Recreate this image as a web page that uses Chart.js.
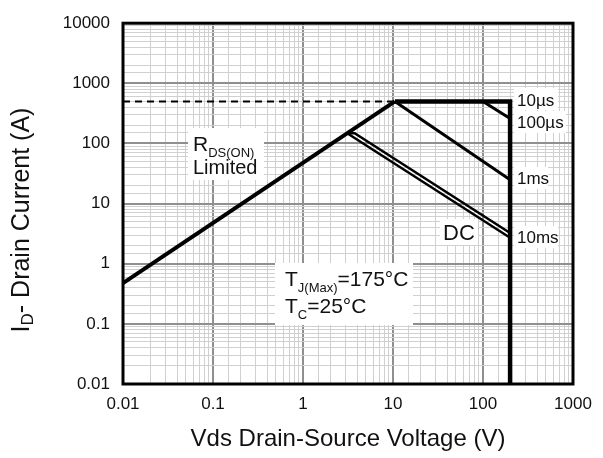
<!DOCTYPE html>
<html>
<head>
<meta charset="utf-8">
<script src="https://cdn.jsdelivr.net/npm/chart.js@4.4.0/dist/chart.umd.min.js"></script>
<style>
  html, body { margin: 0; padding: 0; background: #fff; }
  #wrap { width: 603px; height: 458px; }
</style>
</head>
<body>
<div id="wrap"><canvas id="soa" width="603" height="458"></canvas></div>
<script>
// labels on the decades
const xTickLabels = ['0.01', '0.1', '1', '10', '100', '1000'];
const yTickLabels = ['0.01', '0.1', '1', '10', '100', '1000', '10000'];

// curves: Vds (V) / Id (A)
const rdsV = [0.01, 10.5];
const rdsI = [0.477, 500];
const pkgV = [0.01, 10.5];
const pkgI = [500, 500];
const us10V = [10.5, 200, 200];
const us10I = [500, 500, 0.01];
const us100V = [100, 200];
const us100I = [500, 260];
const ms1V = [10.5, 200];
const ms1I = [500, 25];
const ms10V = [3.1, 3.75, 200];
const ms10I = [148, 148, 3.25];
const dcV = [3.1, 200];
const dcI = [148, 2.7];

const FONT = "'Liberation Sans', Arial, sans-serif";
const INK = '#111';

const pts = (xs, ys) => xs.map((x, i) => ({ x: x, y: ys[i] }));
const isDecade = v => { const e = Math.log10(v); return Math.abs(e - Math.round(e)) < 1e-6; };

const line = (data, width, dash) => ({
    data: data,
    borderColor: '#000',
    borderWidth: width,
    borderDash: dash || [],
    pointRadius: 0,
    fill: false,
    tension: 0,
    borderJoinStyle: 'miter',
    borderCapStyle: 'butt'
});

// white boxes under the notes (hide grid only)
const boxes = [
    [188, 128, 76, 52],
    [275, 263, 138, 62],
    [514, 88, 44, 22],
    [514, 111, 52, 22],
    [514, 167, 34, 22],
    [514, 226, 44, 22],
    [440, 219, 38, 26]
];

const notes = {
    id: 'notes',
    beforeDatasetsDraw(chart) {
        const c = chart.ctx;
        c.save();
        c.fillStyle = '#fff';
        boxes.forEach(b => c.fillRect(b[0], b[1], b[2], b[3]));
        c.restore();
    },
    afterDatasetsDraw(chart) {
        const c = chart.ctx;
        const a = chart.chartArea;
        c.save();
        // frame
        c.strokeStyle = '#000';
        c.lineWidth = 3;
        c.strokeRect(a.left, a.top, a.right - a.left, a.bottom - a.top);

        c.fillStyle = INK;
        c.textBaseline = 'alphabetic';
        c.textAlign = 'left';
        const put = (t, x, y, size) => {
            c.font = size + 'px ' + FONT;
            c.fillText(t, x, y);
            return x + c.measureText(t).width;
        };
        // RDS(ON) Limited
        let x = put('R', 193, 151, 21);
        put('DS(ON)', x, 157, 13);
        put('Limited', 193, 174, 20);
        // Tj / Tc
        x = put('T', 285, 286, 21);
        x = put('J(Max)', x, 292, 13);
        put('=175°C', x, 286, 21);
        x = put('T', 285, 313, 21);
        x = put('C', x, 319, 13);
        put('=25°C', x, 313, 21);
        // pulse labels
        put('10µs', 517, 106, 17);
        put('100µs', 517, 128, 17);
        put('1ms', 517, 184, 17);
        put('10ms', 517, 243, 17);
        put('DC', 443, 240, 22);

        // y title with subscript
        c.translate(22, 220);
        c.rotate(-Math.PI / 2);
        c.textBaseline = 'middle';
        c.font = '25px ' + FONT;
        const w1 = c.measureText('I').width;
        c.font = '17px ' + FONT;
        const w2 = c.measureText('D').width;
        c.font = '25px ' + FONT;
        const w3 = c.measureText('- Drain Current (A)').width;
        let sx = -(w1 + w2 + w3) / 2;
        c.fillText('I', sx, 0);
        c.font = '17px ' + FONT;
        c.fillText('D', sx + w1, 6);
        c.font = '25px ' + FONT;
        c.fillText('- Drain Current (A)', sx + w1 + w2, 0);
        c.restore();
    }
};

const gridColor = ctx => (ctx.tick && isDecade(ctx.tick.value)) ? '#8f8f8f' : '#d0d0d0';
const gridWidth = ctx => (ctx.tick && isDecade(ctx.tick.value)) ? 2 : 1;

new Chart(document.getElementById('soa'), {
    type: 'line',
    data: {
        datasets: [
            line(pts(pkgV, pkgI), 2, [7, 5]),
            line(pts(rdsV, rdsI), 4),
            line(pts(us10V, us10I), 4.5),
            line(pts(us100V, us100I), 3),
            line(pts(ms1V, ms1I), 3),
            line(pts(ms10V, ms10I), 2.5),
            line(pts(dcV, dcI), 2.5)
        ]
    },
    options: {
        responsive: false,
        animation: false,
        devicePixelRatio: 1,
        layout: { padding: { top: 15, right: 30, bottom: 0, left: 0 } },
        plugins: {
            legend: { display: false },
            tooltip: { enabled: false }
        },
        scales: {
            x: {
                type: 'logarithmic',
                min: 0.01,
                max: 1000,
                afterFit: s => { s.height = 74; },
                border: { display: false },
                grid: { drawTicks: false, color: gridColor, lineWidth: gridWidth },
                ticks: {
                    autoSkip: false,
                    maxRotation: 0,
                    minRotation: 0,
                    padding: 10,
                    color: INK,
                    font: { family: FONT, size: 17 },
                    callback: v => isDecade(v) ? xTickLabels[Math.round(Math.log10(v)) + 2] : ''
                },
                title: {
                    display: true,
                    text: 'Vds Drain-Source Voltage (V)',
                    color: INK,
                    font: { family: FONT, size: 24 },
                    padding: { top: 0, bottom: 4 }
                }
            },
            y: {
                type: 'logarithmic',
                min: 0.01,
                max: 10000,
                afterFit: s => { s.width = 123; },
                border: { display: false },
                grid: { drawTicks: false, color: gridColor, lineWidth: gridWidth },
                ticks: {
                    autoSkip: false,
                    padding: 13,
                    color: INK,
                    font: { family: FONT, size: 17 },
                    callback: v => isDecade(v) ? yTickLabels[Math.round(Math.log10(v)) + 2] : ''
                }
            }
        }
    },
    plugins: [notes]
});
</script>
</body>
</html>
